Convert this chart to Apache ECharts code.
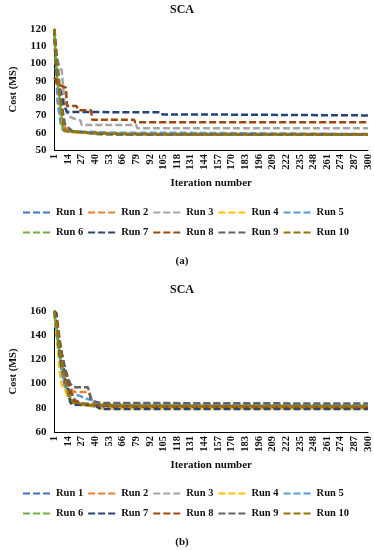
<!DOCTYPE html>
<html><head><meta charset="utf-8">
<script src="https://cdn.jsdelivr.net/npm/echarts@6/dist/echarts.min.js"></script>
<style>html,body{margin:0;padding:0;background:#fff}#c{width:374px;height:550px}</style>
</head><body><div id="c"></div><script>
// ---------- data ----------
const iterationCount = 300;
const categories = [];
for (let i = 1; i <= iterationCount; i++) categories.push(String(i));

const runNames = ['Run 1','Run 2','Run 3','Run 4','Run 5','Run 6','Run 7','Run 8','Run 9','Run 10'];
const runColors = ['#4472C4','#ED7D31','#A5A5A5','#FFC000','#5B9BD5','#70AD47','#264478','#9E480E','#636363','#997300'];

// Chart (a): [iteration, cost] points
const runA1  = [[1,120],[3,96],[5,82],[7,70],[9,63],[11,61],[20,60.5],[40,59.5],[120,59],[300,59]];
const runA2  = [[1,115],[3,92],[5,75],[7,69],[9,68],[12,62],[16,60.5],[50,59.5],[300,59.2]];
const runA3  = [[1,120],[3,104],[5,100],[8,96],[11,75],[14,70],[18,68.5],[26,67],[27,64.5],[79,64.5],[80,62.6],[300,62.6]];
const runA4  = [[1,120],[4,85],[8,62],[12,60.5],[50,59.5],[300,59]];
const runA5  = [[1,115],[4,78],[7,65],[10,61],[60,60],[110,60],[111,59.2],[300,59.2]];
const runA6  = [[1,118],[3,95],[6,80],[9,63],[12,61],[30,60],[45,59],[300,58.8]];
const runA7  = [[1,120],[2,105],[4,90],[7,84],[10,76],[13,72],[103,71.8],[104,70.5],[157,70.5],[158,70],[300,70]];
const runA8  = [[1,92],[4,88],[12,86],[13,75.5],[22,75.5],[24,73],[36,73],[37,67.5],[77,67.5],[78,66],[300,66]];
const runA9  = [[1,120],[4,100],[7,80],[11,65],[14,63],[18,61],[30,60],[60,59],[300,59]];
const runA10 = [[1,120],[3,100],[6,82],[10,62],[13,61],[35,60],[70,59.2],[300,59]];

// Chart (b)
const runB1  = [[1,160],[3,145],[6,120],[9,105],[12,95],[15,87],[20,84],[40,81],[300,80]];
const runB2  = [[1,160],[5,138],[8,120],[12,106],[16,96],[20,93],[34,93],[38,84],[45,82],[300,81]];
const runB3  = [[1,160],[4,132],[8,122],[11,110],[15,98],[19,88],[25,84],[50,82.5],[300,82]];
const runB4  = [[1,160],[3,140],[6,110],[8,99],[11,96],[14,88],[20,83],[40,81],[45,79.5],[300,79.5]];
const runB5  = [[1,158],[4,135],[8,110],[11,98],[14,92],[25,90],[30,88],[38,86],[42,83],[300,82.5]];
const runB6  = [[1,158],[4,140],[7,120],[10,108],[13,96],[17,86],[25,83],[60,81.5],[300,81]];
const runB7  = [[1,160],[3,158],[6,125],[8,113],[10,112],[12,100],[14,97],[16,85],[18,82.5],[40,82],[45,79],[300,79]];
const runB8  = [[1,160],[4,150],[7,130],[10,116],[13,105],[16,95],[20,86],[30,83],[60,81],[300,80.5]];
const runB9  = [[1,160],[5,140],[8,125],[12,110],[16,100],[19,97],[33,97],[36,86],[45,84],[300,83.5]];
const runB10 = [[1,160],[3,150],[6,128],[9,112],[12,100],[15,90],[19,84],[35,82.5],[80,81.5],[300,81]];

const runsA = [runA1,runA2,runA3,runA4,runA5,runA6,runA7,runA8,runA9,runA10];
const runsB = [runB1,runB2,runB3,runB4,runB5,runB6,runB7,runB8,runB9,runB10];

const yTicksA = {min:50, max:120, interval:10};
const yTicksB = {min:60, max:160, interval:20};

// ---------- style ----------
const FONT = '"Liberation Serif","Times New Roman",serif';
const TXT = {fontFamily:FONT, fontWeight:'bold', color:'#111'};

function buildSeries(runs, idx) {
  return runs.map((pts, k) => ({
    type:'line', name:runNames[k], xAxisIndex:idx, yAxisIndex:idx,
    data: pts.map(p => [String(p[0]), p[1]]),
    symbol:'none', showSymbol:false, smooth:false, animation:false,
    lineStyle:{color:runColors[k], width:2.5, type:[7,3]},
    itemStyle:{color:runColors[k]}
  }));
}

function xAxis(idx) {
  return {
    gridIndex:idx, type:'category', data:categories, boundaryGap:false,
    axisLine:{lineStyle:{color:'#000', width:1}}, axisTick:{show:false},
    axisLabel:Object.assign({interval:12, rotate:90, fontSize:10.5, margin:4}, TXT),
    name:'Iteration number', nameLocation:'middle', nameGap:28,
    nameTextStyle:Object.assign({fontSize:11}, TXT)
  };
}
function yAxis(idx, t) {
  return {
    gridIndex:idx, type:'value', min:t.min, max:t.max, interval:t.interval,
    splitLine:{show:false}, axisLine:{show:true, lineStyle:{color:'#000', width:1}},
    axisTick:{show:false},
    axisLabel:Object.assign({fontSize:11, margin:8}, TXT),
    name:'Cost (MS)', nameLocation:'middle', nameGap:30, nameRotate:90,
    nameTextStyle:Object.assign({fontSize:10.5}, TXT)
  };
}
function legend(names, top) {
  return {data:names, left:22, top:top, orient:'horizontal', padding:0,
    itemWidth:28, itemHeight:14, itemGap:4, selectedMode:false,
    itemStyle:{opacity:0, color:'rgba(0,0,0,0)', borderWidth:0},
    textStyle:Object.assign({fontSize:10.5}, TXT)};
}
function label(text, x, y, size) {
  return {type:'text', x:x, y:y, style:{text:text, fill:'#111', font:'bold ' + size + 'px ' + FONT, textAlign:'center', textVerticalAlign:'middle'}};
}

const chart = echarts.init(document.getElementById('c'), null, {renderer:'canvas'});
chart.setOption({
  backgroundColor:'#fff',
  animation:false,
  grid:[{left:41, top:29, width:327, height:121}, {left:41, top:311, width:327, height:121}],
  xAxis:[xAxis(0), xAxis(1)],
  yAxis:[yAxis(0, yTicksA), yAxis(1, yTicksB)],
  legend:[legend(runNames.slice(0,5), 207), legend(runNames.slice(5), 227),
          legend(runNames.slice(0,5), 488), legend(runNames.slice(5), 508)],
  graphic:[label('SCA', 182, 10, 12), label('(a)', 182, 261, 11),
           label('SCA', 182, 290, 12), label('(b)', 182, 542, 11)],
  series: buildSeries(runsA, 0).concat(buildSeries(runsB, 1))
});
</script></body></html>
